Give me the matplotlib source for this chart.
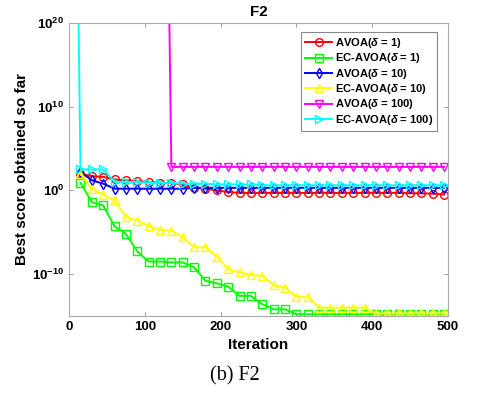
import numpy as np
import matplotlib
matplotlib.use("Agg")
import matplotlib.pyplot as plt
from matplotlib.ticker import FixedLocator, FixedFormatter

plt.rcParams["font.family"] = ["Liberation Sans", "DejaVu Sans"]
plt.rcParams["font.weight"] = "bold"
plt.rcParams["mathtext.fontset"] = "custom"
plt.rcParams["mathtext.rm"] = "Liberation Sans:bold"
plt.rcParams["mathtext.bf"] = "Liberation Sans:bold"
plt.rcParams["mathtext.it"] = "Liberation Sans:bold:italic"

# iterations where the curves were sampled (every 15 iterations)
iters = list(range(15, 496, 15))

# log10 of best score
avoa_1 = [2.0, 1.7, 1.6, 1.3, 1.2, 1.1, 1.0, 0.9, 0.9, 0.7, 0.3, 0.2, 0.0,
          -0.2, -0.3, -0.3, -0.3, -0.3, -0.3, -0.3, -0.3, -0.3, -0.3, -0.3,
          -0.3, -0.3, -0.3, -0.3, -0.3, -0.35, -0.35, -0.4, -0.5]
ec_avoa_1 = [0.9, -1.4, -1.8, -4.3, -5.2, -7.3, -8.5, -8.5, -8.6, -8.6, -9.2,
             -10.8, -11.1, -11.5, -12.6, -12.6, -13.6, -14.2, -14.2] + [-14.8] * 14
avoa_10 = [2.2, 1.2, 0.8, 0.2, 0.2, 0.2, 0.2, 0.2, 0.2, 0.2, 0.3, 0.3, 0.3,
           0.3, 0.3, 0.3, 0.3, 0.3, 0.3, 0.3, 0.3, 0.3, 0.3, 0.3, 0.3, 0.3,
           0.3, 0.3, 0.3, 0.3, 0.3, 0.3, 0.3]
ec_avoa_10 = [2.0, 0.2, -0.5, -1.2, -3.2, -3.6, -4.3, -4.7, -4.8, -5.6, -6.8,
              -6.8, -7.9, -9.4, -9.8, -10.1, -10.2, -11.3, -11.6, -12.7, -12.7,
              -14.0, -14.0, -14.0, -14.0, -14.0] + [-14.7] * 7
# values above 1e20 before iteration 135 (off the chart)
avoa_100 = [100] * 8 + [2.8] * 25
ec_avoa_100_iters = [1] + iters
ec_avoa_100 = [100, 2.5, 2.5, 2.5, 1.0, 1.0, 1.0, 0.9, 0.9, 0.9, 0.8, 0.8,
               0.8, 0.7, 0.7, 0.7, 0.7, 0.6, 0.6, 0.6, 0.6, 0.6, 0.6, 0.6,
               0.6, 0.6, 0.6, 0.6, 0.6, 0.6, 0.6, 0.6, 0.6, 0.6]

series = [
    (iters, avoa_1, "#ff0000", "o", "AVOA($\\delta$ = 1)"),
    (iters, ec_avoa_1, "#00ff00", "s", "EC-AVOA($\\delta$ = 1)"),
    (iters, avoa_10, "#0000ff", "d", "AVOA($\\delta$ = 10)"),
    (iters, ec_avoa_10, "#ffff00", "^", "EC-AVOA($\\delta$ = 10)"),
    (iters, avoa_100, "#ff00ff", "v", "AVOA($\\delta$ = 100)"),
    (ec_avoa_100_iters, ec_avoa_100, "#00ffff", ">", "EC-AVOA($\\delta$ = 100)"),
]

fig = plt.figure(figsize=(4.8, 3.94), dpi=100)
ax = fig.add_axes([0.144, 0.198, 0.789, 0.744])

for x, y, c, m, lab in series:
    ax.plot(x, 10.0 ** np.array(y), color=c, marker=m, markersize=5.5,
            markerfacecolor="none", markeredgewidth=1.0, linewidth=1.4,
            label=lab)

ax.set_yscale("log")
ax.set_xlim(0, 500)
ax.set_ylim(1e-15, 1e20)
ax.set_xticks([0, 100, 200, 300, 400, 500])
ax.yaxis.set_major_locator(FixedLocator([1e-10, 1e0, 1e10, 1e20]))
ax.yaxis.set_major_formatter(FixedFormatter([r"$\mathbf{10^{-10}}$", r"$\mathbf{10^{0}}$",
                                             r"$\mathbf{10^{10}}$", r"$\mathbf{10^{20}}$"]))
ax.yaxis.set_minor_locator(FixedLocator([]))
ax.tick_params(direction="in", length=3, width=0.6, color="#888888",
               labelsize=9.5, top=True, right=True)
for s in ax.spines.values():
    s.set_color("#aaaaaa")
    s.set_linewidth(0.8)
for t in ax.get_xticklabels():
    t.set_fontweight("bold")

ax.set_title("F2", fontsize=11, fontweight="bold", pad=5)
ax.set_xlabel("Iteration", fontsize=11, fontweight="bold", labelpad=4)
ax.set_ylabel("Best score obtained so far", fontsize=11, fontweight="bold", labelpad=2)

leg = ax.legend(loc="upper right", bbox_to_anchor=(0.972, 0.968), fontsize=8,
                handlelength=2.4, handletextpad=0.3, labelspacing=0.12,
                borderpad=0.35, fancybox=False, framealpha=1, borderaxespad=0)
leg.get_frame().set_edgecolor("#888888")
leg.get_frame().set_linewidth(0.8)
for t in leg.get_texts():
    t.set_fontweight("bold")

fig.text(0.49, 0.045, "(b) F2", fontsize=14.5, family="Liberation Serif",
         fontweight="normal", ha="center", va="center")

fig.savefig("out.png", dpi=100)
